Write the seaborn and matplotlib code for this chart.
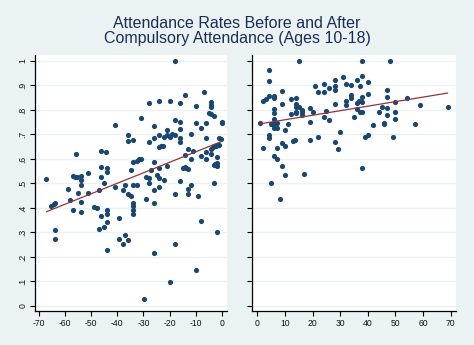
import matplotlib
matplotlib.use("Agg")
import matplotlib.pyplot as plt
import seaborn as sns
import numpy as np
import pandas as pd

title = "Attendance Rates Before and After\nCompulsory Attendance (Ages 10-18)"

before_x = [-67.2,-59.1,-55.9,-57.2,-56.2,-54.0,-54.0,-54.0,-55.2,-58.0,
            -51.1,-51.1,-47.1,-46.1,-44.2,-46.1,-44.0,-44.0,-46.1,-45.3,
            -41.0,-41.1,-37.9,-36.1,-36.1,-34.0,-34.9,-34.0,-32.4,-31.7,
            -31.1,-30.9,-37.1,-36.1,-34.9,-34.0,-32.3,-29.2,-27.9,-27.9,
            -27.9,-27.9,-27.3,-26.1,-26.1,-26.1,-26.1,-29.2,-24.2,-24.2,
            -24.2,-23.4,-22.7,-24.2,-25.0,-24.2,-24.2,-22.3,-22.3,-21.1,
            -21.1,-21.0,-19.8,-19.8,-19.1,-18.0,-18.0,-18.0,-18.0,-16.0,
            -16.0,-16.0,-16.0,-16.0,-16.0,-14.2,-14.2,-14.8,-14.2,-13.7,
            -12.9,-12.9,-12.9,-12.9,-11.9,-11.9,-11.9,-11.1,-10.0,-10.0,
            -9.1,-8.1,-8.1,-6.9,-6.1,-6.1,-6.1,-6.1,-4.2,-4.2,
            -4.2,-4.9,-4.1,-3.1,-4.2,-3.5,-2.8,-2.2,-1.7,-1.0,
            -4.2,-3.1,-2.4,-1.9,-1.9,-1.8,-3.1,-1.0,-0.1,0.0,0.0,
            -65.3,-64.3,-64.0,-64.0,-64.0,-57.2,-54.0,-54.0,-49.0,-48.0,
            -47.1,-46.1,-45.3,-44.0,-44.0,-44.0,-44.0,-39.2,-39.2,-37.9,
            -37.0,-36.1,-34.0,-34.0,-34.0,-34.0,-26.1,-26.1,-19.8,-18.0,
            -9.9,-8.1,-1.9,-29.8,-55.6]
before_y = [0.519,0.478,0.621,0.530,0.527,0.530,0.514,0.495,0.462,0.433,
            0.542,0.462,0.475,0.634,0.629,0.568,0.564,0.548,0.527,0.503,
            0.740,0.486,0.475,0.699,0.674,0.677,0.556,0.589,0.591,0.598,
            0.601,0.767,0.495,0.459,0.450,0.492,0.495,0.527,0.830,0.670,
            0.523,0.503,0.556,0.736,0.685,0.589,0.475,0.437,0.837,0.696,
            0.650,0.653,0.653,0.564,0.534,0.522,0.484,0.516,0.688,0.718,
            0.696,0.572,0.837,0.688,0.702,1.0,0.759,0.698,0.456,0.830,
            0.752,0.722,0.685,0.670,0.511,0.862,0.617,0.565,0.568,0.563,
            0.639,0.559,0.478,0.456,0.702,0.601,0.493,0.634,0.816,0.748,
            0.450,0.727,0.612,0.875,0.748,0.685,0.627,0.601,0.834,0.820,
            0.813,0.786,0.782,0.774,0.640,0.647,0.651,0.655,0.657,0.659,
            0.620,0.575,0.578,0.582,0.572,0.609,0.503,0.687,0.680,0.752,0.745,
            0.407,0.415,0.419,0.311,0.274,0.393,0.426,0.385,0.403,0.399,
            0.315,0.369,0.324,0.390,0.374,0.341,0.227,0.358,0.274,0.254,
            0.288,0.270,0.422,0.410,0.393,0.374,0.419,0.218,0.098,0.254,
            0.147,0.345,0.303,0.030,0.528]

after_x = [1.0,1.9,1.9,3.0,4.1,4.1,4.1,4.1,4.1,4.8,
           4.8,5.9,5.9,5.9,5.9,5.9,5.9,5.9,5.2,7.0,
           7.0,5.9,7.0,7.0,8.2,8.8,8.8,8.8,8.8,9.9,
           9.9,9.9,11.1,12.2,12.2,12.9,13.6,14.0,14.0,14.0,
           14.0,14.0,15.0,15.0,16.1,16.1,16.1,16.8,19.0,19.0,
           19.0,20.0,20.8,22.0,22.0,24.0,24.0,24.0,24.7,25.8,
           25.8,28.0,28.0,28.0,28.0,28.0,29.1,29.8,30.9,32.0,
           32.0,32.0,33.8,33.8,33.8,34.9,36.0,36.0,36.0,36.7,
           37.1,37.1,37.8,37.8,37.8,37.8,37.8,37.8,38.9,40.0,
           40.0,40.0,41.8,43.9,45.0,45.7,45.7,46.8,46.8,46.8,
           46.8,48.0,49.0,49.7,49.7,49.7,54.1,57.0,58.8,68.9]
after_y = [0.748,0.646,0.837,0.843,0.857,0.920,0.965,0.699,0.685,0.503,
           0.742,0.857,0.850,0.805,0.789,0.763,0.742,0.726,0.742,0.748,
           0.726,0.612,0.601,0.646,0.437,0.879,0.826,0.666,0.572,0.718,
           0.653,0.535,0.742,0.846,0.785,0.674,0.677,0.850,0.826,0.813,
           0.793,0.787,1.0,0.813,0.800,0.793,0.779,0.540,0.809,0.752,
           0.678,0.792,0.899,0.875,0.691,0.907,0.875,0.772,0.796,0.891,
           0.760,0.924,0.899,0.883,0.826,0.670,0.642,0.711,0.936,0.907,
           0.838,0.822,0.903,0.862,0.850,0.772,0.924,0.830,0.805,0.838,
           0.899,0.792,1.0,0.940,0.854,0.834,0.792,0.564,0.691,0.916,
           0.866,0.698,0.740,0.793,0.813,0.748,0.744,0.883,0.854,0.809,
           0.781,1.0,0.691,0.834,0.793,0.764,0.850,0.744,0.822,0.813]

y_ticks = [0, 0.1, 0.2, 0.3, 0.4, 0.5, 0.6, 0.7, 0.8, 0.9, 1.0]
y_labels = ["0", ".1", ".2", ".3", ".4", ".5", ".6", ".7", ".8", ".9", "1"]
before_xticks = [-70, -60, -50, -40, -30, -20, -10, 0]
after_xticks = [0, 10, 20, 30, 40, 50, 60, 70]

bg = "#EAF2F3"
navy = "#1a476f"
maroon = "#90353b"

sns.set_theme(style="white")
plt.rcParams["font.family"] = ["Liberation Sans", "DejaVu Sans"]

fig = plt.figure(figsize=(4.74, 3.45), dpi=100, facecolor=bg)
ax1 = fig.add_axes([0.0738, 0.0986, 0.4044, 0.742])
ax2 = fig.add_axes([0.5323, 0.0986, 0.4297, 0.742])

df_b = pd.DataFrame({"x": before_x, "y": before_y})
df_a = pd.DataFrame({"x": after_x, "y": after_y})

for ax, df, xl, xt in [(ax1, df_b, (-71.6, 1.9), before_xticks),
                        (ax2, df_a, (-1.8, 71.9), after_xticks)]:
    ax.set_facecolor("white")
    for t in y_ticks:
        ax.axhline(t, color=bg, lw=1.0, zorder=0)
    sns.scatterplot(data=df, x="x", y="y", ax=ax, color=navy, marker="o",
                    s=14, linewidth=0, zorder=3)
    sns.regplot(data=df, x="x", y="y", ax=ax, scatter=False, ci=None,
                line_kws={"color": maroon, "lw": 0.9, "zorder": 4})
    ax.set_xlim(*xl)
    ax.set_ylim(-0.0204, 1.0245)
    ax.set_xticks(xt)
    ax.set_xticklabels([str(v) for v in xt], fontsize=6.2, color="#111111")
    ax.set_yticks(y_ticks)
    ax.set_xlabel("")
    ax.set_ylabel("")
    for s in ["top", "right"]:
        ax.spines[s].set_visible(False)
    for s in ["left", "bottom"]:
        ax.spines[s].set_color("black")
        ax.spines[s].set_linewidth(0.9)
    ax.tick_params(axis="both", direction="out", length=3.5, width=0.8,
                   color="black", left=True, bottom=True, pad=2)

ax1.set_yticklabels(y_labels, fontsize=6.2, rotation=90, va="center",
                    color="#111111")
ax2.set_yticklabels([])

fig.text(0.5, 0.955, title, ha="center", va="top", fontsize=11.5,
         color="#1e2d53", linespacing=1.0)

fig.savefig("out.png", dpi=100, facecolor=bg)
